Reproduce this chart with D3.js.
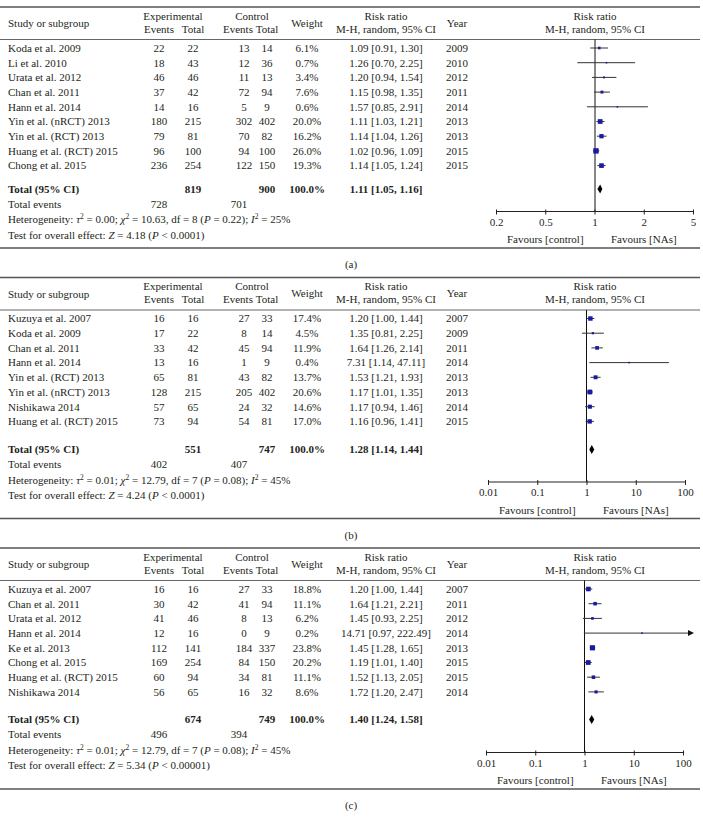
<!DOCTYPE html>
<html>
<head>
<meta charset="utf-8">
<script src="https://cdn.jsdelivr.net/npm/d3@7"></script>
<style>
  html, body { margin: 0; padding: 0; background: #fff; }
  svg text { font-family: "Liberation Serif", "Times New Roman", serif; fill: #231f20; }
</style>
</head>
<body>
<svg id="chart" width="703" height="824"></svg>
<script>
// ---------------- DATA ----------------
const panelLabels = ["(a)", "(b)", "(c)"];

// Panel (a)
const studiesA   = ["Koda et al. 2009", "Li et al. 2010", "Urata et al. 2012", "Chan et al. 2011", "Hann et al. 2014", "Yin et al. (nRCT) 2013", "Yin et al. (RCT) 2013", "Huang et al. (RCT) 2015", "Chong et al. 2015"];
const expEventsA = [22, 18, 46, 37, 14, 180, 79, 96, 236];
const expTotalA  = [22, 43, 46, 42, 16, 215, 81, 100, 254];
const ctlEventsA = [13, 12, 11, 72, 5, 302, 70, 94, 122];
const ctlTotalA  = [14, 36, 13, 94, 9, 402, 82, 100, 150];
const weightA    = [6.1, 0.7, 3.4, 7.6, 0.6, 20.0, 16.2, 26.0, 19.3];
const rrA        = [1.09, 1.26, 1.20, 1.15, 1.57, 1.11, 1.14, 1.02, 1.14];
const lowA       = [0.91, 0.70, 0.94, 0.98, 0.85, 1.03, 1.04, 0.96, 1.05];
const highA      = [1.30, 2.25, 1.54, 1.35, 2.91, 1.21, 1.26, 1.09, 1.24];
const yearA      = [2009, 2010, 2012, 2011, 2014, 2013, 2013, 2015, 2015];
const ticksA     = ["0.2", "0.5", "1", "2", "5"];

// Panel (b)
const studiesB   = ["Kuzuya et al. 2007", "Koda et al. 2009", "Chan et al. 2011", "Hann et al. 2014", "Yin et al. (RCT) 2013", "Yin et al. (nRCT) 2013", "Nishikawa 2014", "Huang et al. (RCT) 2015"];
const expEventsB = [16, 17, 33, 13, 65, 128, 57, 73];
const expTotalB  = [16, 22, 42, 16, 81, 215, 65, 94];
const ctlEventsB = [27, 8, 45, 1, 43, 205, 24, 54];
const ctlTotalB  = [33, 14, 94, 9, 82, 402, 32, 81];
const weightB    = [17.4, 4.5, 11.9, 0.4, 13.7, 20.6, 14.6, 17.0];
const rrB        = [1.20, 1.35, 1.64, 7.31, 1.53, 1.17, 1.17, 1.16];
const lowB       = [1.00, 0.81, 1.26, 1.14, 1.21, 1.01, 0.94, 0.96];
const highB      = [1.44, 2.25, 2.14, 47.11, 1.93, 1.35, 1.46, 1.41];
const yearB      = [2007, 2009, 2011, 2014, 2013, 2013, 2014, 2015];
const ticksB     = ["0.01", "0.1", "1", "10", "100"];

// Panel (c)
const studiesC   = ["Kuzuya et al. 2007", "Chan et al. 2011", "Urata et al. 2012", "Hann et al. 2014", "Ke et al. 2013", "Chong et al. 2015", "Huang et al. (RCT) 2015", "Nishikawa 2014"];
const expEventsC = [16, 30, 41, 12, 112, 169, 60, 56];
const expTotalC  = [16, 42, 46, 16, 141, 254, 94, 65];
const ctlEventsC = [27, 41, 8, 0, 184, 84, 34, 16];
const ctlTotalC  = [33, 94, 13, 9, 337, 150, 81, 32];
const weightC    = [18.8, 11.1, 6.2, 0.2, 23.8, 20.2, 11.1, 8.6];
const rrC        = [1.20, 1.64, 1.45, 14.71, 1.45, 1.19, 1.52, 1.72];
const lowC       = [1.00, 1.21, 0.93, 0.97, 1.28, 1.01, 1.13, 1.20];
const highC      = [1.44, 2.21, 2.25, 222.49, 1.65, 1.40, 2.05, 2.47];
const yearC      = [2007, 2011, 2012, 2014, 2013, 2015, 2015, 2014];
const ticksC     = ["0.01", "0.1", "1", "10", "100"];

// Totals / summary (a, b, c)
const totalExp     = [819, 551, 674];
const totalCtl     = [900, 747, 749];
const totalRR      = [1.11, 1.28, 1.40];
const totalLow     = [1.05, 1.14, 1.24];
const totalHigh    = [1.16, 1.44, 1.58];
const eventsExp    = [728, 402, 496];
const eventsCtl    = [701, 407, 394];
const tau2         = ["0.00", "0.01", "0.01"];
const chi2         = ["10.63", "12.79", "12.79"];
const dfs          = [8, 7, 7];
const hetP         = ["0.22", "0.08", "0.08"];
const i2           = [25, 45, 45];
const zVal         = ["4.18", "4.24", "5.34"];
const zP           = ["0.0001", "0.0001", "0.00001"];

// ---------------- LAYOUT ----------------
const svg = d3.select("#chart");
const FS = 11;
const col = { study: 8, expEv: 159, expTot: 193, ctlEv: 244, ctlTot: 267, weight: 307, rr: 386, year: 457,
              expHead: 173, ctlHead: 252, hExpEv: 159, hExpTot: 193, hCtlEv: 238, hCtlTot: 267, forest: 595 };
const panels = [
  { top: 7,     axisRange: [496, 693], dataDomain: [0.2, 5],   dataRange: [515.3, 674.7], totalOff: 182,
    studies: studiesA, expEv: expEventsA, expTot: expTotalA, ctlEv: ctlEventsA, ctlTot: ctlTotalA, w: weightA, rr: rrA, lo: lowA, hi: highA, yr: yearA, ticks: ticksA },
  { top: 277.5, axisRange: [488, 685], dataDomain: [0.01, 100], dataRange: [488, 685], totalOff: 172,
    studies: studiesB, expEv: expEventsB, expTot: expTotalB, ctlEv: ctlEventsB, ctlTot: ctlTotalB, w: weightB, rr: rrB, lo: lowB, hi: highB, yr: yearB, ticks: ticksB },
  { top: 548,   axisRange: [486, 683], dataDomain: [0.01, 100], dataRange: [486, 683], totalOff: 171.5,
    studies: studiesC, expEv: expEventsC, expTot: expTotalC, ctlEv: ctlEventsC, ctlTot: ctlTotalC, w: weightC, rr: rrC, lo: lowC, hi: highC, yr: yearC, ticks: ticksC }
];

const f2 = d3.format(".2f");
const f1 = d3.format(".1f");
const rrText = (r, l, h) => `${f2(r)} [${f2(l)}, ${f2(h)}]`;
const sizeScale = d3.scaleSqrt().domain([0, 26]).range([0, 5.4]);

function txt(g, x, y, s, anchor = "middle", weight = "normal") {
  return g.append("text").attr("x", x).attr("y", y).attr("dy", "0.35em")
    .attr("text-anchor", anchor).attr("font-size", FS).attr("font-weight", weight).text(s);
}
function hline(g, x1, x2, y, color = "#555", w = 1.3) {
  g.append("line").attr("x1", x1).attr("x2", x2).attr("y1", y).attr("y2", y)
    .attr("stroke", color).attr("stroke-width", w);
}

panels.forEach((p, i) => {
  const g = svg.append("g");
  const T = p.top;
  const n = p.studies.length;
  const rowY = d3.scaleLinear().domain([0, n - 1]).range([T + 41, T + 41 + 14.7 * (n - 1)]);
  const totalY = T + p.totalOff;
  const axisY = T + 204.5;
  const bottomY = T + 241;
  const x = d3.scaleLog().domain(p.dataDomain).range(p.dataRange);
  const xAxisScale = d3.scalePoint().domain(p.ticks).range(p.axisRange);

  // frame lines
  hline(g, 0, 700, T, "#555", 1.4);
  hline(g, 0, 700, T + 32.5, "#666", 1.1);
  hline(g, 0, 700, bottomY, "#555", 1.4);

  // headers
  txt(g, col.study, T + 16.5, "Study or subgroup", "start");
  txt(g, col.expHead, T + 9, "Experimental");
  txt(g, col.hExpEv, T + 22, "Events");
  txt(g, col.hExpTot, T + 22, "Total");
  txt(g, col.ctlHead, T + 9, "Control");
  txt(g, col.hCtlEv, T + 22, "Events");
  txt(g, col.hCtlTot, T + 22, "Total");
  txt(g, col.weight, T + 16, "Weight");
  txt(g, col.rr, T + 9, "Risk ratio");
  txt(g, col.rr, T + 22, "M-H, random, 95% CI");
  txt(g, col.year, T + 16, "Year");
  txt(g, col.forest, T + 9, "Risk ratio");
  txt(g, col.forest, T + 22, "M-H, random, 95% CI");

  // study rows (text)
  p.studies.forEach((s, j) => {
    const y = rowY(j);
    txt(g, col.study, y, s, "start");
    txt(g, col.expEv, y, p.expEv[j]);
    txt(g, col.expTot, y, p.expTot[j]);
    txt(g, col.ctlEv, y, p.ctlEv[j]);
    txt(g, col.ctlTot, y, p.ctlTot[j]);
    txt(g, col.weight, y, f1(p.w[j]) + "%");
    txt(g, col.rr, y, rrText(p.rr[j], p.lo[j], p.hi[j]));
    txt(g, col.year, y, p.yr[j]);
  });

  // total row
  txt(g, col.study, totalY, "Total (95% CI)", "start", "bold");
  txt(g, col.expTot, totalY, totalExp[i], "middle", "bold");
  txt(g, col.ctlTot, totalY, totalCtl[i], "middle", "bold");
  txt(g, col.weight, totalY, "100.0%", "middle", "bold");
  txt(g, col.rr, totalY, rrText(totalRR[i], totalLow[i], totalHigh[i]), "middle", "bold");

  txt(g, col.study, totalY + 15, "Total events", "start");
  txt(g, col.expEv, totalY + 15, eventsExp[i]);
  txt(g, 239, totalY + 15, eventsCtl[i]);

  // heterogeneity line
  const het = g.append("text").attr("x", col.study).attr("y", totalY + 30.5).attr("dy", "0.35em").attr("font-size", FS);
  het.append("tspan").text("Heterogeneity: ");
  het.append("tspan").attr("font-style", "italic").text("τ");
  het.append("tspan").attr("font-size", 7.5).attr("dy", -4).text("2");
  het.append("tspan").attr("dy", 4).text(` = ${tau2[i]}; `);
  het.append("tspan").attr("font-style", "italic").text("χ");
  het.append("tspan").attr("font-size", 7.5).attr("dy", -4).text("2");
  het.append("tspan").attr("dy", 4).text(` = ${chi2[i]}, df = ${dfs[i]} (`);
  het.append("tspan").attr("font-style", "italic").text("P");
  het.append("tspan").text(` = ${hetP[i]}); `);
  het.append("tspan").attr("font-style", "italic").text("I");
  het.append("tspan").attr("font-size", 7.5).attr("dy", -4).text("2");
  het.append("tspan").attr("dy", 4).text(` = ${i2[i]}%`);

  const test = g.append("text").attr("x", col.study).attr("y", totalY + 46).attr("dy", "0.35em").attr("font-size", FS);
  test.append("tspan").text("Test for overall effect: ");
  test.append("tspan").attr("font-style", "italic").text("Z");
  test.append("tspan").text(` = ${zVal[i]} (`);
  test.append("tspan").attr("font-style", "italic").text("P");
  test.append("tspan").text(` < ${zP[i]})`);

  // forest: reference line at RR = 1
  g.append("line").attr("x1", x(1)).attr("x2", x(1)).attr("y1", T + 32.5).attr("y2", axisY)
    .attr("stroke", "#111").attr("stroke-width", 1);

  // CIs
  const xMax = p.axisRange[1];
  p.studies.forEach((s, j) => {
    const y = rowY(j);
    const lo = x(Math.max(p.lo[j], p.dataDomain[0]));
    const over = p.hi[j] > p.dataDomain[1];
    const hi = over ? xMax + 11 : x(p.hi[j]);
    g.append("line").attr("x1", lo).attr("x2", over ? hi - 4 : hi).attr("y1", y).attr("y2", y)
      .attr("stroke", "#333").attr("stroke-width", 1);
    if (over) {
      g.append("path").attr("d", `M${hi},${y} L${hi - 6},${y - 3} L${hi - 6},${y + 3} Z`).attr("fill", "#111");
    }
    const s2 = Math.max(1.6, sizeScale(p.w[j]));
    g.append("rect").attr("x", x(p.rr[j]) - s2 / 2).attr("y", y - s2 / 2)
      .attr("width", s2).attr("height", s2).attr("fill", "#1a1aa0");
  });

  // diamond
  const dh = 4.5;
  g.append("path")
    .attr("d", `M${x(totalLow[i])},${totalY} L${x(totalRR[i])},${totalY - dh} L${x(totalHigh[i])},${totalY} L${x(totalRR[i])},${totalY + dh} Z`)
    .attr("fill", "#000");

  // axis
  const axis = d3.axisBottom(xAxisScale).tickSizeInner(4).tickSizeOuter(0).tickPadding(3.5);
  const ag = g.append("g").attr("transform", `translate(0,${axisY - 1})`).call(axis);
  ag.select(".domain").attr("stroke", "#222").attr("stroke-width", 1)
    .attr("d", `M${p.axisRange[0]},1H${p.axisRange[1]}`);
  ag.selectAll(".tick line").attr("stroke", "#222").attr("y1", -1);
  ag.selectAll(".tick text").attr("font-size", FS).attr("font-family", "Liberation Serif, serif").attr("fill", "#231f20");

  txt(g, xAxisScale(p.ticks[1]), axisY + 28, "Favours [control]");
  txt(g, xAxisScale(p.ticks[3]), axisY + 28, "Favours [NAs]");

  // panel label
  txt(g, 351, bottomY + 16.5, panelLabels[i]);
});
</script>
</body>
</html>
